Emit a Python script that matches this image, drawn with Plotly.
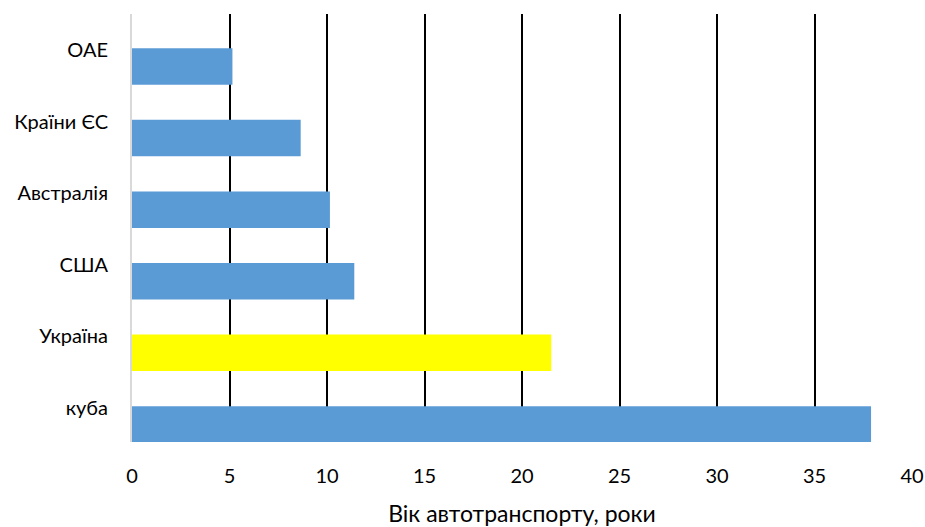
import plotly.graph_objects as go

# Average vehicle age by country, years
countries = ["куба", "Україна", "США", "Австралія", "Країни ЄС", "ОАЕ"]
ages = [37.9, 21.5, 11.4, 10.15, 8.65, 5.15]
bar_colors = ["#5B9BD5", "#FFFF00", "#5B9BD5", "#5B9BD5", "#5B9BD5", "#5B9BD5"]

x_ticks = [0, 5, 10, 15, 20, 25, 30, 35, 40]

# bars sit slightly below their category labels
bar_width = 0.51
bar_offset = -0.485

fig = go.Figure(
    go.Bar(
        x=ages,
        y=countries,
        orientation="h",
        width=bar_width,
        offset=bar_offset,
        marker=dict(color=bar_colors, line=dict(width=0)),
        hoverinfo="x+y",
    )
)

fig.update_layout(
    width=925,
    height=527,
    margin=dict(l=132, r=13, t=14, b=85),
    paper_bgcolor="white",
    plot_bgcolor="white",
    showlegend=False,
    font=dict(family="Lato, 'Open Sans', sans-serif", color="#000000", size=20),
)

fig.update_xaxes(
    range=[0, 40],
    tickvals=x_ticks,
    showgrid=True,
    gridcolor="#000000",
    gridwidth=2,
    zeroline=False,
    ticks="outside",
    ticklen=16,
    tickcolor="rgba(0,0,0,0)",
    tickfont=dict(size=20),
    title=dict(text="Вік автотранспорту, роки", font=dict(size=23), standoff=20),
    showline=False,
    automargin=False,
)

fig.update_yaxes(
    categoryorder="array",
    categoryarray=countries,
    range=[-0.475, 5.503],
    showgrid=False,
    showline=True,
    linecolor="#D9D9D9",
    linewidth=2,
    ticks="outside",
    ticklen=18,
    tickcolor="rgba(0,0,0,0)",
    tickfont=dict(size=20),
    automargin=False,
)

fig.write_html("out.html")
